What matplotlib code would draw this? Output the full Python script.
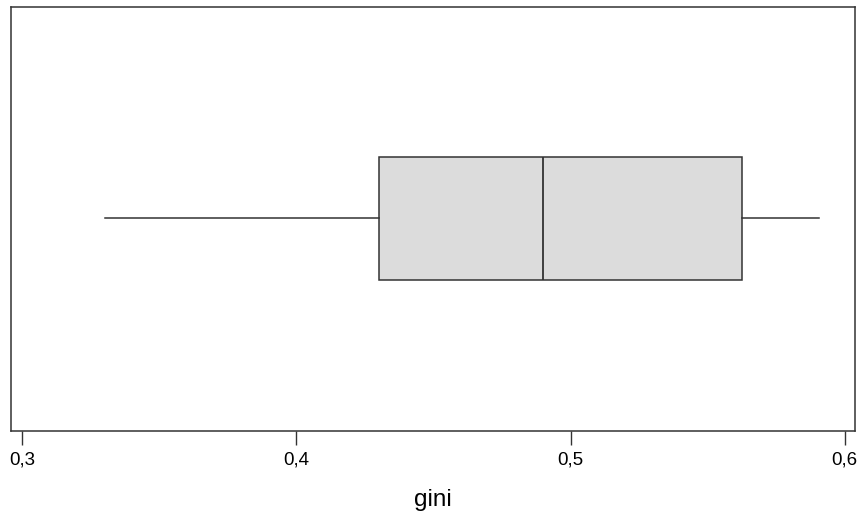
import matplotlib
matplotlib.use("Agg")
import matplotlib.pyplot as plt

plt.rcParams['font.family'] = ['Liberation Sans', 'DejaVu Sans']

# Five-number summary of the gini coefficient
variable = "gini"
whisker_low = 0.330
quartile_1 = 0.430
median = 0.490
quartile_3 = 0.5626
whisker_high = 0.5905
tick_values = [0.3, 0.4, 0.5, 0.6]
tick_labels = ["0,3", "0,4", "0,5", "0,6"]

W, H = 861, 518
fig = plt.figure(figsize=(W / 100, H / 100), dpi=100)
ax = fig.add_axes([11 / W, (H - 431) / H, 844 / W, 424 / H])

stats = [dict(whislo=whisker_low, q1=quartile_1, med=median,
              q3=quartile_3, whishi=whisker_high, fliers=[])]
line_col = '#333333'
ax.bxp(stats, positions=[0.5012], widths=0.2915, vert=False,
       showcaps=False, patch_artist=True,
       boxprops=dict(facecolor='#dcdcdc', edgecolor=line_col, linewidth=1.1),
       medianprops=dict(color=line_col, linewidth=1.3),
       whiskerprops=dict(color=line_col, linewidth=1.1, linestyle='-'))

ax.set_xlim(0.29588, 0.60376)
ax.set_ylim(0, 1)
ax.set_yticks([])
ax.set_xticks(tick_values)
ax.set_xticklabels(tick_labels, fontsize=13.5)
ax.tick_params(axis='x', length=10, width=1.0, color=line_col, pad=4.5)
for s in ax.spines.values():
    s.set_color(line_col)
    s.set_linewidth(1.1)

fig.text(433 / W, 1 - 506 / H, variable, ha='center', va='baseline', fontsize=17.5)

fig.savefig("out.png", dpi=100)
